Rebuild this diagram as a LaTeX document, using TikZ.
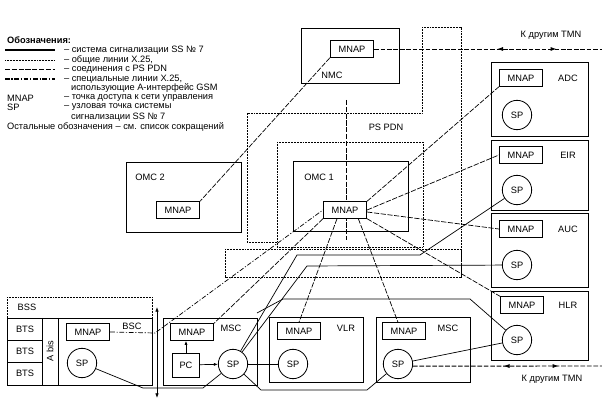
\documentclass[tikz,border=0pt]{standalone}
\usepackage{fontspec}
\setmainfont{Liberation Sans}
\usetikzlibrary{arrows.meta,decorations.markings}

\tikzset{
  box/.style={line width=0.7pt},
  mnap/.style={draw, line width=0.7pt, fill=white, minimum width=1.3cm, minimum height=0.5cm, inner sep=0pt},
  spnode/.style={draw, circle, line width=0.7pt, fill=white, minimum size=0.88cm, inner sep=0pt},
  ss7/.style={line width=0.6pt},
  x25/.style={line width=0.7pt, dash pattern=on 0.7pt off 0.6pt},
  pdn/.style={line width=0.6pt, dash pattern=on 4.5pt off 1.3pt},
  aif/.style={line width=0.6pt, dash pattern=on 4pt off 1.5pt on 1pt off 1.5pt},
  tmn/.style={line width=0.8pt, dash pattern=on 4pt off 1.5pt},
  tip/.style={-{Latex[length=3.5pt,width=2.6pt]}},
}

\begin{document}
\begin{tikzpicture}[x=0.03cm, y=-0.03cm, font=\fontsize{7.9}{9}\selectfont]
    \useasboundingbox (0,0) rectangle (602,401);

    % Legend
    \node[anchor=west, font=\bfseries\fontsize{7.9}{9}\selectfont] (legtitle) at (3,40) {Обозначения:};
    \draw[ss7, line width=1.1pt] (5,50) -- (55,50);
    \node[anchor=west] (leg1) at (60,50) {– система сигнализации SS № 7};
    \draw[x25] (5,60) -- (55,60);
    \node[anchor=west] (leg2) at (60,60) {– общие линии X.25,};
    \draw[pdn] (5,69) -- (55,69);
    \node[anchor=west] (leg3) at (60,69) {– соединения с PS PDN};
    \draw[aif, line width=0.9pt] (5,79) -- (55,79);
    \node[anchor=west] (leg4) at (60,79) {– специальные линии X.25,};
    \node[anchor=west] (leg4b) at (67,88) {использующие A-интерфейс GSM};
    \node[anchor=west] (leg5) at (3,98) {MNAP};
    \node[anchor=west] (leg5b) at (60,98) {– точка доступа к сети управления};
    \node[anchor=west] (leg6) at (3,107) {SP};
    \node[anchor=west] (leg6b) at (60,107) {– узловая точка системы};
    \node[anchor=west] (leg6c) at (67,117) {сигнализации SS № 7};
    \node[anchor=west] (leg7) at (3,127) {Остальные обозначения – см. список сокращений};

    % PS PDN (X.25 network)
    \draw[x25] (277,242) -- (247,242) -- (247,113) -- (422,113) -- (422,27) -- (461,27) -- (461,277);
    \draw[x25] (277,142) rectangle (423,247);
    \draw[x25] (225,249) rectangle (461,277);
    \node (pspdn) at (386,127) {PS PDN};
    \draw[pdn] (346,100) -- (346,240);

    % NMC
    \draw[box] (301,28) rectangle (399,83);
    \node (nmclbl) at (332,75) {NMC};
    \node[mnap] (nmcmnap) at (352,49) {MNAP};

    % OMC 2 and OMC 1
    \draw[box] (126,162) rectangle (241,232);
    \node (omc2lbl) at (150,177) {OMC 2};
    \node[mnap] (omc2mnap) at (178,210) {MNAP};
    \draw[box] (293,161) rectangle (408,231);
    \node (omc1lbl) at (319,177) {OMC 1};
    \node[mnap] (omcmnap) at (345,210) {MNAP};

    % ADC, EIR, AUC, HLR
    \draw[box] (491,62) rectangle (588,136);
    \node[mnap] (adcmnap) at (521,78) {MNAP};
    \node (adclbl) at (568,78) {ADC};
    \node[spnode] (adcsp) at (517,115) {SP};
    \draw[box] (491,140) rectangle (588,210);
    \node[mnap] (eirmnap) at (521,155) {MNAP};
    \node (eirlbl) at (568,155) {EIR};
    \node[spnode] (eirsp) at (517,190) {SP};
    \draw[box] (491,213) rectangle (588,287);
    \node[mnap] (aucmnap) at (521,229) {MNAP};
    \node (auclbl) at (568,229) {AUC};
    \node[spnode] (aucsp) at (517,265) {SP};
    \draw[box] (491,291) rectangle (588,360);
    \node[mnap] (hlrmnap) at (522,305) {MNAP};
    \node (hlrlbl) at (568,305) {HLR};
    \node[spnode] (hlrsp) at (517,340) {SP};

    % BSS
    \draw[x25] (7,318) -- (7,297) -- (152,297) -- (152,318);
    \node (bsslbl) at (27,307) {BSS};
    \draw[box] (7,318) rectangle (152,385);
    \draw[box] (42,318) -- (42,385);
    \draw[box] (58,318) -- (58,385);
    \draw[box] (7,340) -- (42,340);
    \draw[box] (7,362) -- (42,362);
    \node (bts1) at (25,329) {BTS};
    \node (bts2) at (25,351) {BTS};
    \node (bts3) at (25,373) {BTS};
    \node[rotate=90] (abis) at (50,351) {A bis};
    \node[mnap] (bscmnap) at (88,332) {MNAP};
    \node (bsclbl) at (132,326) {BSC};
    \node[spnode] (bscsp) at (82,363) {SP};
    \coordinate (arrtop) at (157,307);
    \coordinate (arrbot) at (157,398);
    \draw[{Latex[length=4pt,width=3pt]}-{Latex[length=4pt,width=3pt]}, line width=0.6pt] (arrtop) -- (arrbot);

    % MSC, VLR, MSC
    \draw[box] (163,318) rectangle (257,385);
    \node[mnap] (msc1mnap) at (192,332) {MNAP};
    \node (msc1lbl) at (231,328) {MSC};
    \node[draw, line width=0.7pt, minimum width=0.81cm, minimum height=0.72cm, inner sep=0pt] (pc) at (186,365) {PC};
    \node[spnode] (msc1sp) at (233,364) {SP};
    \draw[box] (269,317) rectangle (363,382);
    \node[mnap] (vlrmnap) at (299,331) {MNAP};
    \node (vlrlbl) at (346,328) {VLR};
    \node[spnode] (vlrsp) at (293,364) {SP};
    \draw[box] (376,317) rectangle (470,382);
    \node[mnap] (msc2mnap) at (404,331) {MNAP};
    \node (msc2lbl) at (448,328) {MSC};
    \node[spnode] (msc2sp) at (398,364) {SP};
    \draw[tip, line width=0.6pt] (pc.north) -- (pc.north |- msc1mnap.south);
    \draw[tip, line width=0.6pt] (pc) -- (msc1sp);

    % SS7 links
    \draw[ss7] (bscsp) -- (143,388) -- (203,388) -- (msc1sp);
    \draw[ss7] (msc1sp) -- (vlrsp);
    \draw[ss7] (msc1sp) -- (297,255) -- (420,255) -- (eirsp);
    \draw[ss7] (msc1sp) -- (307,266) -- (aucsp);
    \draw[ss7] (msc1sp) -- (261,390) -- (367,390) -- (msc2sp);
    \draw[ss7] (257,313) -- (283,299) -- (470,299) -- (hlrsp);
    \draw[ss7] (msc2sp) -- (hlrsp);

    % connections with PS PDN
    \draw[pdn] (nmcmnap.south west) -- (omc2mnap.north east);
    \draw[pdn] (omcmnap.north east) -- (adcmnap.south west);
    \draw[pdn] (omcmnap.east) -- (eirmnap.west);
    \draw[pdn] ([yshift=-0.06cm]omcmnap.east) -- (aucmnap.west);
    \draw[pdn] (omcmnap.south east) -- (hlrmnap.north west);
    \draw[pdn] ([xshift=0.4cm]omcmnap.south) -- ([xshift=-0.18cm]msc2mnap.north);
    \draw[pdn] ([xshift=-0.24cm]omcmnap.south) -- (vlrmnap.north);
    \draw[pdn] ([xshift=-0.66cm]omcmnap.south) -- (msc1mnap.north east);

    % A-interface X.25
    \draw[aif] (bscmnap.east) -- (155,333) -- (omcmnap.west);

    % to other TMN
    \coordinate (tmntop) at (602,49);
    \coordinate (tmnbot) at (602,366);
    \draw[tmn, postaction={decorate}, decoration={markings,
        mark=at position 0.54 with {\arrowreversed{Latex[length=5pt,width=3.5pt]}},
        mark=at position 0.80 with {\arrow{Latex[length=5pt,width=3.5pt]}}}] (nmcmnap) -- (tmntop);
    \node (tmnlbl1) at (551,35) {К другим TMN};
    \draw[tmn, postaction={decorate}, decoration={markings,
        mark=at position 0.48 with {\arrowreversed{Latex[length=5pt,width=3.5pt]}},
        mark=at position 0.77 with {\arrow{Latex[length=5pt,width=3.5pt]}}}] (msc2sp.-8) -- (tmnbot);
    \node (tmnlbl2) at (552,379) {К другим TMN};
\end{tikzpicture}
\end{document}
